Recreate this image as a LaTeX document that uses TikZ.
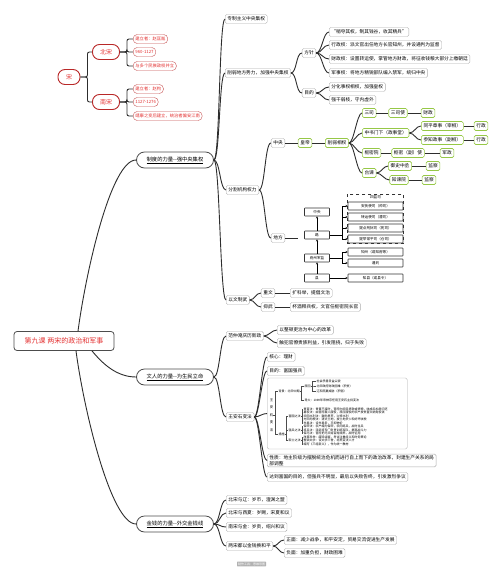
\documentclass[tikz,border=0pt]{standalone}
\usepackage{fontspec}
\setmainfont{Noto Sans CJK SC}
\XeTeXlinebreaklocale "zh"
\usepackage{tikz}
\usetikzlibrary{arrows.meta, fit}
\definecolor{songred}{RGB}{185, 40, 40}
\definecolor{textred}{RGB}{228, 48, 48}
\definecolor{leafgreen}{RGB}{150, 200, 70}
\definecolor{linkgray}{RGB}{45, 45, 45}
\newcommand{\fsz}[1]{\fontsize{#1}{#1}\selectfont}

\begin{document}
\begin{tikzpicture}[x=1pt, y=-1pt,
  link/.style={draw=linkgray, line width=0.9pt},
  brace/.style={draw=black!70, line width=0.3pt},
  mmlink/.style={to path={.. controls +(#1,0) and +(-#1,0) .. (\tikztotarget)}},
  mmlink/.default=6,
  leaf/.style={draw=gray!65, rounded corners=1.5pt, fill=white, inner xsep=2.2pt, inner ysep=1pt, minimum height=9pt, font=\fsz{4.7}},
  redleaf/.style={leaf, draw=songred!80, rounded corners=4pt, text=textred, font=\fsz{4.3}},
  redtop/.style={draw=songred, line width=0.9pt, rounded corners=7pt, text=textred, font=\fsz{6}, minimum height=15pt, fill=white},
  greenleaf/.style={leaf, draw=leafgreen, line width=0.6pt},
  topic/.style={draw=gray!60!black, line width=0.8pt, rounded corners=8pt, minimum width=77pt, minimum height=16pt, font=\fsz{5.3}, fill=white},
  chart/.style={draw=black!80, line width=0.55pt, rounded corners=0.5pt, minimum width=25pt, minimum height=8pt, inner sep=0.5pt, font=\fsz{3.6}},
  chartwide/.style={chart, minimum width=55pt},
  flow/.style={-{Stealth[length=2.2pt, width=2pt]}, line width=0.5pt},
  minitext/.style={inner sep=0.3pt, font=\fsz{3}, anchor=west}]
  \useasboundingbox (0,0) rectangle (503,573);

  % the two dynasties
  \node[redtop, minimum width=22pt] (song) at (69,77) {宋};
  \node[redtop, minimum width=27pt] (bsong) at (106,52) {北宋};
  \node[redtop, minimum width=27pt] (nsong) at (106,102) {南宋};
  \node[redleaf, anchor=west] (bs1) at (133,39) {建立者：赵匡胤};
  \node[redleaf, anchor=west] (bs2) at (133,52) {960-1127};
  \node[redleaf, anchor=west] (bs3) at (133,66) {与多个民族政权并立};
  \node[redleaf, anchor=west] (ns1) at (133,89) {建立者：赵构};
  \node[redleaf, anchor=west] (ns2) at (133,102) {1127-1276};
  \node[redleaf, anchor=west] (ns3) at (133,116) {靖康之变后建立，统治者偏安江南};
  \draw[link, rounded corners=2pt] (song.east) -- ++(7,0) |- (bsong.west);
  \draw[link, rounded corners=2pt] (song.east) -- ++(7,0) |- (nsong.west);
  \foreach \n in {bs1,bs2,bs3}
    \draw[link, rounded corners=2pt] (bsong.east) -- ++(7,0) |- (\n.west);
  \foreach \n in {ns1,ns2,ns3}
    \draw[link, rounded corners=2pt] (nsong.east) -- ++(7,0) |- (\n.west);

  % root and the three topics
  \node[draw=gray!60!black, line width=0.8pt, rounded corners=3pt, minimum width=100pt, minimum height=19pt, text=textred, font=\fsz{7}, fill=white] (root) at (64,341) {第九课\ 两宋的政治和军事};
  \node[topic] (sys) at (175,160) {\underline{制度的力量-{}-强中央集权}};
  \node[topic] (lit) at (175,377) {\underline{文人的力量-{}-为生民立命}};
  \node[topic] (mon) at (175,524) {\underline{金钱的力量-{}-外交金钱线}};
  \draw[link] ([xshift=14pt]root.north) .. controls +(8,-60) and +(-25,0) .. (sys.west);
  \draw[link] ([xshift=28pt]root.south) .. controls +(10,12) and +(-20,0) .. (lit.west);
  \draw[link] ([xshift=12pt]root.south) .. controls +(8,60) and +(-25,0) .. (mon.west);

  % topic 1
  \node[leaf, anchor=west] (c11) at (225,19) {专制主义中央集权};
  \node[leaf, anchor=west] (c12) at (225,73) {削弱地方势力，加强中央集权};
  \node[leaf, anchor=west] (c13) at (226,190) {分割机构权力};
  \node[leaf, anchor=west] (c14) at (226,300) {以文制武};
  \foreach \n in {c11,c12,c13,c14}
    \draw[link] (sys.east) to[mmlink] (\n.west);

  \node[leaf] (fangz) at (309,53) {方针};
  \node[leaf] (mudi) at (309,93) {目的};
  \draw[link] (c12.east) to[mmlink] (fangz.west);
  \draw[link] (c12.east) to[mmlink] (mudi.west);
  \node[leaf, anchor=west] (fz1) at (329,32) {“稍夺其权，制其钱谷，收其精兵”};
  \node[leaf, anchor=west] (fz2) at (329,45) {行政权：派文官出任地方长官知州，并设通判为监督};
  \node[leaf, anchor=west] (fz3) at (329,59) {财政权：设置转运使，掌管地方财政，将征收钱粮大部分上缴朝廷};
  \node[leaf, anchor=west] (fz4) at (329,73) {军事权：将地方精锐部队编入禁军，统归中央};
  \node[leaf, anchor=west] (md1) at (329,87) {分化事权相权，加强皇权};
  \node[leaf, anchor=west] (md2) at (329,100) {强干弱枝，守内虚外};
  \foreach \n in {fz1,fz2,fz3,fz4}
    \draw[link] (fangz.east) to[mmlink] (\n.west);
  \foreach \n in {md1,md2}
    \draw[link] (mudi.east) to[mmlink] (\n.west);

  % central government
  \node[leaf] (zy) at (278,143) {中央};
  \node[leaf] (df) at (278,238) {地方};
  \draw[link] (c13.east) to[mmlink] (zy.west);
  \draw[link] (c13.east) to[mmlink] (df.west);
  \node[greenleaf] (hd) at (305,143) {皇帝};
  \node[greenleaf] (xr) at (337,143) {削弱相权};
  \draw[link] (zy) -- (hd);
  \draw[link] (hd) -- (xr);
  \node[greenleaf, anchor=west] (ss) at (362,113) {三司};
  \node[greenleaf, anchor=west] (zs) at (362,133) {中书门下（政事堂）};
  \node[greenleaf, anchor=west] (smy) at (362,153) {枢密院};
  \node[greenleaf, anchor=west] (tj) at (362,173) {台谏};
  \foreach \n in {ss,zs,smy,tj}
    \draw[link] (xr.east) to[mmlink=5] (\n.west);
  \node[greenleaf] (ssy) at (398,113) {三司使};
  \node[greenleaf] (cz) at (428,113) {财政};
  \draw[link] (ss) -- (ssy);
  \draw[link] (ssy) -- (cz);
  \node[greenleaf, anchor=west] (tp) at (421,126) {同平章事（宰相）};
  \node[greenleaf, anchor=west] (cb) at (421,140) {参知政事（副相）};
  \draw[link] (zs.east) to[mmlink=5] (tp.west);
  \draw[link] (zs.east) to[mmlink=5] (cb.west);
  \node[greenleaf] (xz1) at (481,126) {行政};
  \node[greenleaf] (xz2) at (481,140) {行政};
  \draw[link] (tp) -- (xz1);
  \draw[link] (cb) -- (xz2);
  \node[greenleaf] (smsy) at (408,153) {枢密（副）使};
  \node[greenleaf] (jz) at (447,153) {军政};
  \draw[link] (smy) -- (smsy);
  \draw[link] (smsy) -- (jz);
  \node[greenleaf] (yszc) at (400,166) {御史中丞};
  \node[greenleaf] (zjy) at (399,180) {知谏院};
  \draw[link] (tj.east) to[mmlink=5] (yszc.west);
  \draw[link] (tj.east) to[mmlink=5] (zjy.west);
  \node[greenleaf] (jc1) at (433,166) {监察};
  \node[greenleaf] (jc2) at (429,180) {监察};
  \draw[link] (yszc) -- (jc1);
  \draw[link] (zjy) -- (jc2);

  % local government chart
  \coordinate (df-end) at (298,238);
  \draw[link] (df.east) -- (df-end);
  \node[chart] (fc1) at (317,212) {中央};
  \node[chart] (fc2) at (317,235) {路};
  \node[chart] (fc3) at (317,258) {府州军监};
  \node[chart] (fc4) at (317,278) {县};
  \draw[flow] (fc4) -- (fc3);
  \draw[flow] (fc3) -- (fc2);
  \draw[flow] (fc2) -- (fc1);
  \node[font=\fsz{3.6}, inner sep=0.5pt] (jsh) at (375.5,197.5) {四监司};
  \node[chartwide] (js1) at (375.5,206) {安抚使司（帅司）};
  \node[chartwide] (js2) at (375.5,217) {转运使司（漕司）};
  \node[chartwide] (js3) at (375.5,228) {提点刑狱司（宪司）};
  \node[chartwide] (js4) at (375.5,239) {提举常平司（仓司）};
  \node[draw=black!80, dashed, line width=0.6pt, inner sep=0.5pt, fit=(jsh)(js1)(js4)] (jbox) {};
  \node[chartwide] (zz) at (375.5,252) {知州（或知府等）};
  \node[chartwide] (tpan) at (375.5,263) {通判};
  \node[chartwide] (zx) at (375.5,278) {知县（或县令）};
  \coordinate (lu-br) at (342,235);
  \coordinate (fz-br) at (342,258);
  \draw[line width=0.5pt] (fc2.east) -- (lu-br);
  \draw[line width=0.5pt] (fc3.east) -- (fz-br);
  \foreach \n in {js1,js2,js3,js4}
    \draw[flow] (lu-br) |- (\n.west);
  \foreach \n in {zz,tpan}
    \draw[flow] (fz-br) |- (\n.west);
  \draw[flow] (fc4.east) -- (zx.west);

  \node[leaf] (zw) at (268,293) {重文};
  \node[leaf] (yw) at (268,307) {抑武};
  \draw[link] (c14.east) to[mmlink=5] (zw.west);
  \draw[link] (c14.east) to[mmlink=5] (yw.west);
  \node[leaf, anchor=west] (zw1) at (290,293) {扩科举，提倡文治};
  \node[leaf, anchor=west] (yw1) at (290,307) {杯酒释兵权，文官任枢密院长官};
  \draw[link] (zw) -- (zw1);
  \draw[link] (yw) -- (yw1);

  % topic 2
  \node[leaf, anchor=west] (fx) at (226,336) {范仲淹庆历新政};
  \node[leaf, anchor=west] (wa) at (226,417) {王安石变法};
  \draw[link] (lit.east) to[mmlink] (fx.west);
  \draw[link] (lit.east) to[mmlink] (wa.west);
  \node[leaf, anchor=west] (fx1) at (277,330) {以整顿吏治为中心的改革};
  \node[leaf, anchor=west] (fx2) at (277,343) {触犯官僚贵族利益，引发阻挠，归于失败};
  \draw[link] (fx.east) to[mmlink=5] (fx1.west);
  \draw[link] (fx.east) to[mmlink=5] (fx2.west);
  \node[leaf, anchor=west] (hx) at (267,357) {核心：理财};
  \node[leaf, anchor=west] (mdd) at (267,371) {目的：富国强兵};
  \node[leaf, anchor=west, minimum width=140pt, minimum height=71pt] (wbox) at (267,413.5) {};
  \node[leaf, anchor=west, align=left, font=\fontsize{4.7}{6.5}\selectfont] (xz) at (267,460.5) {性质：地主阶级为摆脱统治危机而进行自上而下的政治改革，封建生产关系的局\\部调整};
  \node[leaf, anchor=west] (dd) at (267,477) {达到富国的目的，但强兵不明显，最后以失败告终，引发激烈争议};
  \foreach \n in {hx,mdd,wbox,xz,dd}
    \draw[link] (wa.east) to[mmlink=5] (\n.west);

  % reform table inside the box
  \node[font=\fontsize{3.4}{7.5}\selectfont, align=center, inner sep=0pt] (wv) at (271.5,415) {王\\安\\石\\变\\法};
  \node[minitext] (bj) at (278,391) {背景：北宋中期};
  \node[minitext] (cs) at (278,434) {措施};
  \coordinate (wv-br) at (275.5,415);
  \draw[brace] (wv.east) -- (wv-br) |- (bj.west);
  \draw[brace] (wv-br) |- (cs.west);
  \node[minitext] (yy) at (304,386) {原因};
  \node[minitext] (dh) at (304,400) {导火：1069年宋神宗任用王安石主持变法};
  \draw[brace] (bj.east) -- ++(1.5,0) |- (yy.west);
  \draw[brace] (bj.east) -- ++(1.5,0) |- (dh.west);
  \foreach \yy/\tx [count=\i] in {381/{社会矛盾日益尖锐}, 386/{北宋政府财政困难（积贫）}, 391/{辽和西夏威胁（积弱）}} {
    \node[minitext] (yy\i) at (316,\yy) {\tx};
    \draw[brace] (yy.east) -- ++(1.2,0) |- (yy\i.west);
  }
  \node[minitext] (fg) at (288,416) {富国之法};
  \node[minitext] (qb) at (288,430) {强兵之法};
  \node[minitext] (qs) at (288,440.5) {取士之法};
  \foreach \n in {fg,qb,qs}
    \draw[brace] (cs.east) -- ++(1.5,0) |- (\n.west);
  \foreach \yy/\tx [count=\i] in {409/{青苗法：青黄不接时，官府向农民贷款或贷粮，收成后加息归还}, 412.5/{募役法：由官府雇人服役，原应服役的农户按贫富交纳免役钱}, 416/{农田水利法：鼓励垦荒，兴修水利}, 419.5/{方田均税法：清丈土地，按土地多少和好坏收税}, 423/{市易法：设市易务，平抑物价}} {
    \node[minitext] (fg\i) at (303,\yy) {\tx};
    \draw[brace] (fg.east) -- ++(1.2,0) |- (fg\i.west);
  }
  \foreach \yy/\tx [count=\i] in {426.5/{保甲法：农户编为保甲，农闲练兵，战时当兵}, 430/{将兵法：派武将专门负责训练军队，提高战斗力}, 433.5/{保马法：官府把马交给百姓喂养，战时征用}} {
    \node[minitext] (qb\i) at (303,\yy) {\tx};
    \draw[brace] (qb.east) -- ++(1.2,0) |- (qb\i.west);
  }
  \foreach \yy/\tx [count=\i] in {437/{改革科举：废除诗赋，考试注重经义和时务策论}, 440.5/{整顿太学：设太学三舍，培养变法人才}, 444/{编写《三经新义》，作为统一教材}} {
    \node[minitext] (qs\i) at (303,\yy) {\tx};
    \draw[brace] (qs.east) -- ++(1.2,0) |- (qs\i.west);
  }

  % topic 3
  \node[leaf, anchor=west] (w1) at (226,500) {北宋与辽：岁币，澶渊之盟};
  \node[leaf, anchor=west] (w2) at (226,513) {北宋与西夏：岁赐，宋夏和议};
  \node[leaf, anchor=west] (w3) at (226,527) {南宋与金：岁贡，绍兴和议};
  \node[leaf, anchor=west] (w4) at (226,546) {两宋都以金钱换和平};
  \foreach \n in {w1,w2,w3,w4}
    \draw[link] (mon.east) to[mmlink] (\n.west);
  \node[leaf, anchor=west] (w41) at (284,540) {正面：减少战争，和平安定，贸易交流促进生产发展};
  \node[leaf, anchor=west] (w42) at (284,553) {负面：加重负担，财政困难};
  \draw[link] (w4.east) to[mmlink=5] (w41.west);
  \draw[link] (w4.east) to[mmlink=5] (w42.west);

  \node[fill=gray!60, text=white, font=\fsz{3}, inner sep=1pt, rounded corners=0.5pt] (tag) at (251.5,564) {制作工具：思维导图};
\end{tikzpicture}
\end{document}
